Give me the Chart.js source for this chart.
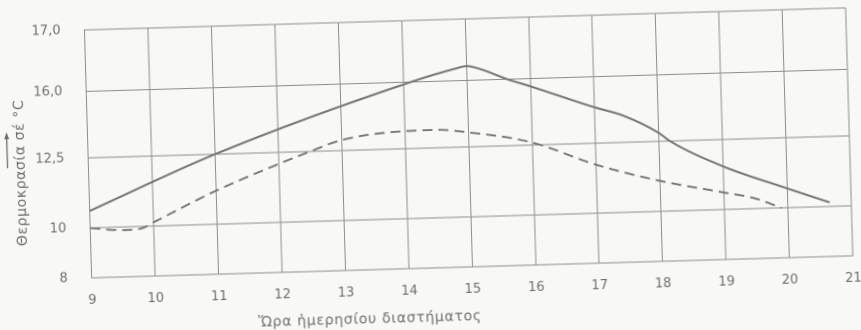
<!DOCTYPE html>
<html>
<head>
<meta charset="utf-8">
<script src="https://cdn.jsdelivr.net/npm/chart.js@4.4.0/dist/chart.umd.min.js"></script>
<style>
  html, body { margin: 0; padding: 0; background: #f8f8f6; overflow: hidden; }
  /* the scanned sheet sits slightly turned */
  #wrap { width: 861px; height: 330px; transform: rotate(-1.66deg); transform-origin: 50% 50%; }
</style>
</head>
<body>
<div id="wrap"><canvas id="chart" width="861" height="330" style="width:861px;height:330px"></canvas></div>
<script>
// --- DATOS ---
const hourTicks = [9, 10, 11, 12, 13, 14, 15, 16, 17, 18, 19, 20, 21];
const tempTicks = [8, 10, 12.5, 16, 17];
const tempTickLabels = ['8', '10', '12,5', '16,0', '17,0'];

// curva continua
const solidHours = [9, 11, 14.13, 14.85, 15, 15.2, 15.63, 16, 17, 17.45, 18, 18.17, 19, 20, 20.66];
const solidTemps = [10.61, 12.5, 16.0, 16.2, 16.23, 16.18, 16.0, 15.58, 14.38, 13.9, 12.94, 12.5, 11.54, 10.69, 10.15];

// curva discontinua
const dashedHours = [9, 9.5, 9.8, 10, 11, 12, 12.5, 13, 14, 14.5, 15, 16, 17, 18, 19, 19.5, 19.9];
const dashedTemps = [10.0, 9.88, 9.92, 10.14, 11.2, 12.09, 12.5, 13.05, 13.42, 13.44, 13.26, 12.63, 11.73, 11.09, 10.61, 10.36, 10.0];

const xTitle = 'Ὥρα ἡμερησίου διαστήματος';
const yTitle = 'Θερμοκρασία σέ °C';

// the printed gridlines are not evenly spaced: share of the height below each tick
const gridShare = [0, 0.201, 0.484, 0.753, 1];

function tempToShare(v) {
    let i = 0;
    while (i < tempTicks.length - 2 && v > tempTicks[i + 1]) i++;
    const t = (v - tempTicks[i]) / (tempTicks[i + 1] - tempTicks[i]);
    return gridShare[i] + t * (gridShare[i + 1] - gridShare[i]);
}

function shareToTemp(s) {
    let i = 0;
    while (i < gridShare.length - 2 && s > gridShare[i + 1]) i++;
    const t = (s - gridShare[i]) / (gridShare[i + 1] - gridShare[i]);
    return tempTicks[i] + t * (tempTicks[i + 1] - tempTicks[i]);
}

// escala lineal por tramos
class StretchScale extends Chart.LinearScale {
    buildTicks() {
        return tempTicks.map(v => ({ value: v }));
    }
    getPixelForValue(value) {
        return this.getPixelForDecimal(tempToShare(value));
    }
    getValueForPixel(pixel) {
        return shareToTemp(this.getDecimalForPixel(pixel));
    }
}
StretchScale.id = 'stretch';
StretchScale.defaults = Chart.LinearScale.defaults;
Chart.register(StretchScale);

const ink = '#767676';
const gridInk = '#8e8e8e';
const labelInk = '#6e6e6e';
const labelFont = { family: 'DejaVu Sans', size: 13 };

// titulos y flecha
const axisNotes = {
    id: 'axisNotes',
    afterDraw(chart) {
        const { ctx, chartArea: a } = chart;
        ctx.save();
        ctx.fillStyle = labelInk;
        ctx.font = '14px "DejaVu Sans"';
        ctx.letterSpacing = '0.7px';
        ctx.textAlign = 'center';
        ctx.textBaseline = 'middle';
        ctx.fillText(xTitle, a.left + 277, a.bottom + 50);

        ctx.save();
        ctx.letterSpacing = '0.6px';
        ctx.translate(a.left - 67, a.top + 141);
        ctx.rotate(-Math.PI / 2);
        ctx.fillText(yTitle, 0, 0);
        ctx.restore();

        // flecha hacia arriba
        const ax = a.left - 81;
        ctx.strokeStyle = labelInk;
        ctx.lineWidth = 1.3;
        ctx.beginPath();
        ctx.moveTo(ax, a.top + 136);
        ctx.lineTo(ax, a.top + 105);
        ctx.stroke();
        ctx.beginPath();
        ctx.moveTo(ax, a.top + 100);
        ctx.lineTo(ax - 2.5, a.top + 107);
        ctx.lineTo(ax + 2.5, a.top + 107);
        ctx.closePath();
        ctx.fill();
        ctx.restore();
    }
};

new Chart(document.getElementById('chart'), {
    type: 'line',
    data: {
        datasets: [{
            data: solidHours.map((h, i) => ({ x: h, y: solidTemps[i] })),
            borderColor: ink,
            borderWidth: 2,
            pointRadius: 0,
            cubicInterpolationMode: 'monotone'
        }, {
            data: dashedHours.map((h, i) => ({ x: h, y: dashedTemps[i] })),
            borderColor: ink,
            borderWidth: 1.9,
            borderDash: [10, 6],
            pointRadius: 0,
            cubicInterpolationMode: 'monotone'
        }]
    },
    options: {
        responsive: false,
        animation: false,
        devicePixelRatio: 2,
        layout: { padding: { top: 20, right: 11, left: 0, bottom: 0 } },
        plugins: { legend: { display: false }, tooltip: { enabled: false } },
        scales: {
            x: {
                type: 'linear',
                min: 9,
                max: 21,
                afterBuildTicks: s => { s.ticks = hourTicks.map(v => ({ value: v })); },
                afterFit: s => { s.height = 62; },
                grid: { color: gridInk, lineWidth: 1, drawTicks: true, tickLength: 13, tickColor: 'rgba(0,0,0,0)' },
                border: { color: gridInk, width: 1 },
                ticks: { color: labelInk, font: labelFont, padding: 2, maxRotation: 0 }
            },
            y: {
                type: 'stretch',
                min: 8,
                max: 17,
                afterFit: s => { s.width = 88.6; },
                grid: { color: gridInk, lineWidth: 1, drawTicks: true, tickLength: 22, tickColor: 'rgba(0,0,0,0)' },
                border: { color: gridInk, width: 1 },
                ticks: {
                    color: labelInk,
                    font: labelFont,
                    padding: 2,
                    callback: (v, i) => tempTickLabels[i]
                }
            }
        }
    },
    plugins: [axisNotes]
});
</script>
</body>
</html>
